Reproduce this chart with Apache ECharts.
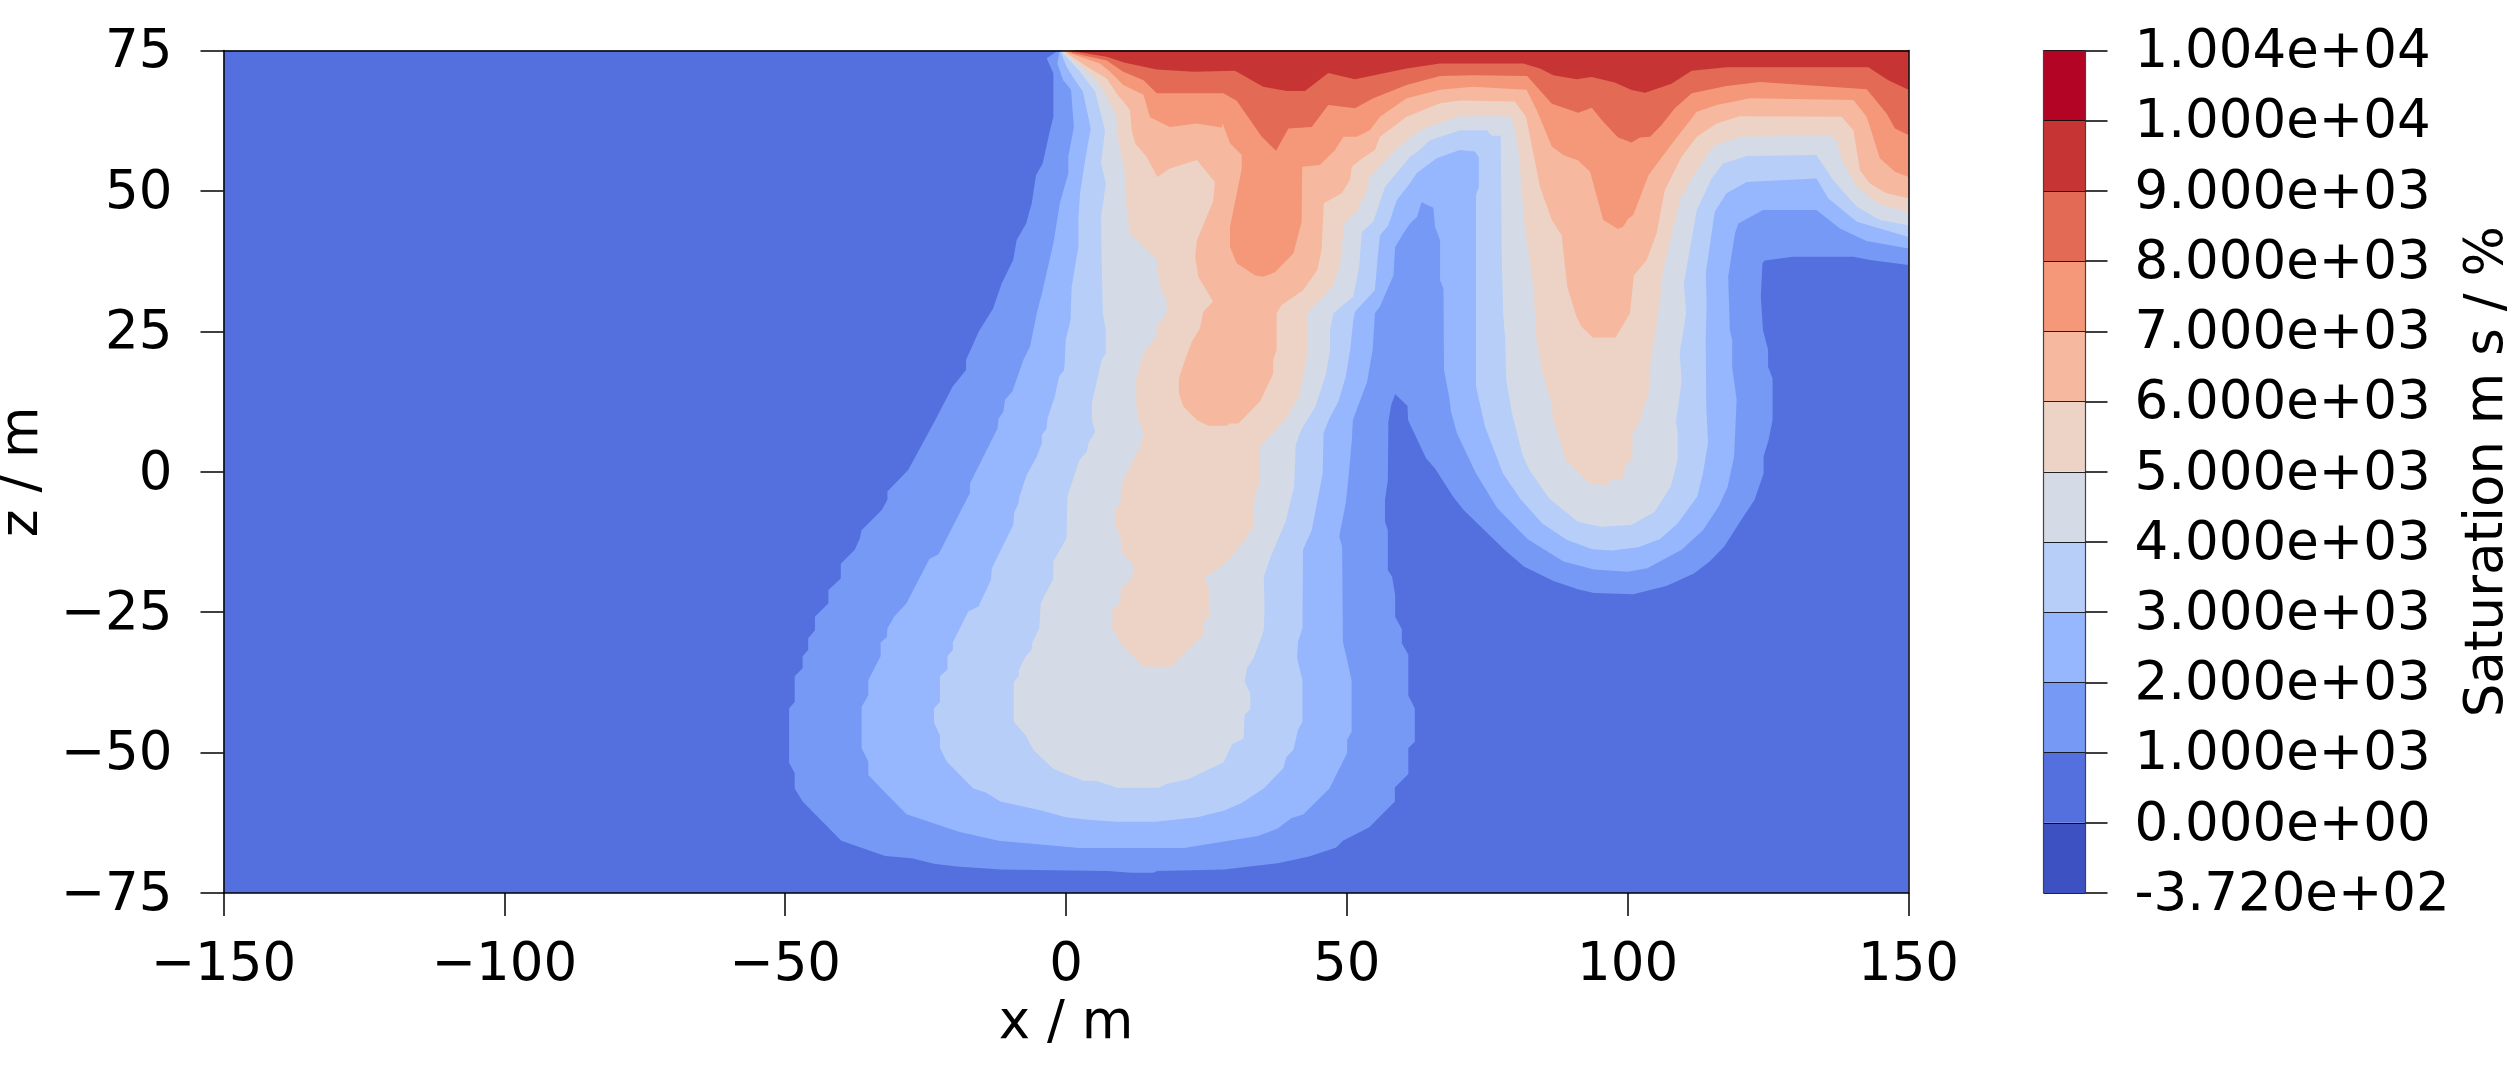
<!DOCTYPE html>
<html>
<head>
<meta charset="utf-8">
<style>html,body{margin:0;padding:0;background:#fff}#c{width:2520px;height:1080px}</style>
<script src="https://cdn.jsdelivr.net/npm/echarts@6/dist/echarts.min.js"></script>
</head>
<body>
<div id="c"></div>
<script>
const colorbarLabels = ['-3.720e+02','0.000e+00','1.000e+03','2.000e+03','3.000e+03','4.000e+03','5.000e+03','6.000e+03','7.000e+03','8.000e+03','9.000e+03','1.000e+04','1.004e+04'];
const bandColors = ['#3e51c3','#5470de','#7699f5','#96b6fe','#b7cef9','#d5dbe6','#edd3c6','#f6b89e','#f5987a','#e36b55','#c63533','#b40426'];
const domain = [[-150,-75],[150,-75],[150,75],[-150,75]];
const contour1000 = [[-1.66,75],[-1.66,74.8],[-3.44,73.6],[-2.25,70.9],[-2.25,63.2],[-2.85,60.8],[-4.15,54.9],[-5.34,52.8],[-6.1,47.8],[-7.1,44.2],[-8.8,41.2],[-9.4,37.7],[-11.45,33.5],[-13,29],[-15.5,25],[-17.8,19.9],[-17.8,18.1],[-20.2,15.15],[-23.6,8.6],[-28.1,0.3],[-31.8,-3.5],[-31.8,-5],[-32.8,-6.8],[-36.4,-10.4],[-36.7,-11.85],[-37.6,-13.9],[-40.1,-16.4],[-40.1,-19],[-42.3,-21.05],[-42.3,-23.4],[-44.7,-25.8],[-44.7,-28.2],[-45.9,-29.65],[-45.9,-31.7],[-46.9,-32.9],[-46.9,-35],[-48.3,-36.4],[-48.3,-41],[-49.3,-42.1],[-49.3,-51.8],[-48.3,-53.7],[-48.3,-56.4],[-46.9,-58.7],[-40,-65.7],[-32.2,-68.4],[-27.45,-68.8],[-23.5,-69.8],[-19.5,-70.3],[-11.55,-70.8],[7.5,-71.1],[11.5,-71.4],[15.5,-71.4],[16.3,-71.1],[28.2,-70.8],[33.4,-70.2],[37.7,-69.7],[43.3,-68.5],[48.1,-66.9],[49.3,-65.7],[54,-63.3],[58.55,-58.7],[58.55,-56.2],[60.95,-53.8],[60.95,-49.2],[62.1,-48.05],[62.1,-42.1],[60.95,-39.9],[60.95,-32.6],[59.8,-30.55],[59.8,-28.05],[58.6,-25.8],[58.6,-21.9],[58.06,-18.7],[57.3,-17.5],[57.3,-10.4],[56.8,-8.9],[56.8,-5],[57.3,-1.5],[57.4,8.9],[57.9,11.9],[58.6,13.85],[60.8,11.7],[60.9,9.2],[64.1,2.4],[65.7,0.6],[68.9,-4.4],[70.8,-6.8],[78.4,-14.2],[81.6,-16.9],[86.7,-19.4],[91.1,-20.9],[94,-21.6],[101,-21.8],[107,-20.3],[111.8,-18.1],[114.6,-16],[117.2,-13.3],[120,-8.9],[122.6,-5],[124.2,-0.3],[124.2,2.7],[125.1,5.7],[125.8,9.2],[125.8,16.6],[125,18.7],[125,21.7],[124.1,25.2],[123.7,31.2],[124,37.1],[124.4,37.6],[129.5,38.3],[140.2,38.3],[143.1,37.7],[150,36.8],[150,75]];
const contour2000 = [[-1.2,75],[-1.2,74.7],[-1.55,72.7],[-0.5,69.7],[0.9,68],[1.4,61.4],[0.4,56.1],[0.4,53.1],[-1.1,47.8],[-2.25,40.7],[-4.3,31.75],[-5.2,28.2],[-6.4,22.3],[-7.6,19.9],[-9.55,14.3],[-10.85,12.8],[-11.15,10.7],[-12,9.5],[-12.2,7.7],[-16.5,-0.9],[-17.1,-2.1],[-17.1,-3.8],[-20.35,-10.1],[-22.7,-14.7],[-24.3,-15.5],[-28.4,-23.4],[-30.6,-25.8],[-31.8,-27.9],[-31.9,-29.4],[-33,-30.4],[-33,-32.8],[-35.2,-37.1],[-35.2,-39.75],[-36.4,-41.9],[-36.4,-49.2],[-35.2,-51.6],[-35.2,-54],[-32.9,-56.4],[-28.4,-61],[-19.1,-64.1],[-12,-65.7],[-3.6,-66.45],[2.35,-67],[21.04,-67],[26.2,-66.15],[34.2,-64.85],[37.7,-63.5],[40.1,-61.7],[42.3,-61],[46.9,-56.4],[50.05,-50.1],[50.05,-47.75],[50.85,-46.3],[50.85,-37.1],[50.05,-33.5],[49.3,-30.25],[49.16,-13.3],[48.65,-11.55],[49.8,-5.6],[50.2,-2.05],[50.9,5.65],[51.07,9.2],[53.6,16],[54.6,21.7],[55,28.2],[55.9,29.4],[58.3,35],[58.6,40],[60.05,42.4],[61.25,44.2],[62.5,45.4],[63.3,48],[65.4,47],[65.7,43.6],[66.6,41.2],[66.6,34.1],[67.2,32.6],[67.3,18.1],[68.2,13.4],[68.55,10.7],[69.6,6.85],[73,-0.3],[76.8,-6.5],[82.2,-12],[88.6,-16],[94,-17.4],[100,-17.8],[103.5,-17.2],[109.6,-13.9],[113.4,-10.4],[116.2,-6.2],[117.8,-2.65],[118.95,2.7],[119.4,12.8],[118.6,18.7],[118.6,23.46],[118.2,25.2],[117.9,34.7],[119.1,42.4],[119.7,44.2],[124.1,46.6],[133.6,46.6],[137.8,43.3],[142.5,41.1],[150,39.75],[150,75]];
const contour3000 = [[-0.9,75],[-0.9,74.6],[0.1,72.1],[1.6,69.7],[3,67.7],[4.4,61.1],[3.4,55.5],[2.5,49.6],[2.2,44.8],[2.2,40],[1,32.9],[0.8,27],[-0.06,23.4],[-0.2,19.9],[-0.35,18.1],[-1.25,16.9],[-2,13.4],[-3.3,9.5],[-3.45,7.7],[-4.3,6.55],[-4.3,5.1],[-5.2,2.7],[-7,-0.6],[-8.3,-4.4],[-8.5,-5.7],[-9.25,-7.3],[-9.4,-9.5],[-13.2,-17.2],[-13.4,-19.3],[-15.6,-24],[-17.4,-24.9],[-20.15,-30.4],[-20.15,-31.7],[-21.1,-32.8],[-21.1,-35.2],[-22.45,-36.4],[-22.45,-41],[-23.5,-42.1],[-23.5,-44.7],[-22.45,-46.9],[-22.45,-49.2],[-21.25,-51.6],[-16.5,-56.4],[-14.3,-57.1],[-11.7,-58.7],[-4.4,-60.3],[-0.05,-61.5],[4.35,-62],[9.1,-62.3],[15.9,-62.3],[23.4,-61.5],[28.2,-60.3],[31.2,-59],[35.2,-56.4],[38.7,-52.8],[39.2,-50.85],[40.5,-49.5],[41.3,-46],[42.1,-44.5],[42.1,-37.1],[41.15,-33.2],[41.3,-30.25],[42.1,-27.9],[42.2,-13.9],[43.75,-10.4],[45.7,-0.3],[45.85,6.85],[46.9,9.5],[48.5,12.5],[49.8,16.9],[50.6,21.7],[51.15,27],[51.45,28.5],[55,32.35],[55.45,37.7],[55.9,42.1],[57.4,43.9],[58.9,48.4],[61.25,51.35],[62.45,53.2],[66,55.8],[70.1,57.3],[72.8,57],[73.5,56],[73.5,50.7],[73,49.3],[73,15.2],[74.6,8],[77.8,-0.3],[81,-5],[84.8,-9.2],[89.2,-12.15],[93.7,-13.8],[97.2,-14],[101.9,-13.45],[105.7,-12],[108.9,-9.2],[112.4,-4.4],[113.4,-0.3],[114.3,5.1],[114,11.6],[113.9,23.46],[114.06,30],[113.9,35.3],[115.5,46.3],[117.6,49.6],[121.2,51.6],[133.6,52.2],[135.7,48.7],[140.8,44.5],[150,41.8],[150,75]];
const contour4000 = [[-0.6,75],[-0.6,74.6],[2.5,71.2],[5.2,67.7],[6.95,60.8],[6.25,54.9],[7.1,51.3],[6.25,45.4],[6.35,38.3],[6.55,28.2],[7.1,25.2],[7.1,21.1],[6.35,19.9],[4.6,12.2],[4.6,9.2],[5.2,7.1],[4,5.1],[3.7,3.6],[2.4,2.1],[0.25,-4.4],[0.1,-11.85],[-2.25,-16],[-2.25,-19],[-4.5,-23.4],[-4.75,-27.9],[-6,-30.4],[-6.1,-31.7],[-7.2,-32.9],[-8.4,-35.3],[-8.4,-36.4],[-9.3,-37.4],[-9.3,-44.5],[-7.2,-46.9],[-5.8,-49.5],[-2.4,-52.8],[0.4,-54],[3.15,-55],[5.5,-55.05],[9.1,-56.25],[16.5,-56.25],[17.85,-55.6],[21.8,-54.7],[28.05,-51.7],[29.6,-48.5],[31.6,-47.5],[31.8,-43.3],[32.8,-42.3],[32.8,-39.45],[31.8,-37.4],[32.2,-35],[33.4,-33.2],[35.2,-28.2],[35.35,-24.3],[35.2,-18.7],[36.45,-15.1],[39.1,-8.9],[40.6,-2.65],[40.9,4.8],[41.85,7.4],[44.4,11.6],[46.3,17.5],[47,21.7],[47,25.2],[47.6,28.2],[51.15,31.2],[52.2,36.5],[52.65,42.7],[54.7,44.5],[56.8,50.75],[61.25,56.1],[62.45,56.9],[64.8,59],[70.1,60.8],[74.9,60.8],[75.8,59.8],[77.4,59.8],[77.6,37.1],[77.85,28.2],[78.2,23.46],[78.4,16.3],[79.4,10.4],[81.3,3],[82.5,0.3],[86,-4.7],[91.1,-8.9],[95.25,-9.8],[100.65,-9.5],[104.8,-7.1],[107.65,-2.65],[108.9,2.1],[108.9,6.85],[108.6,9],[109,11.6],[109.6,16.3],[109.25,21.1],[110.4,28.2],[110,33.5],[112.3,46.6],[114.95,52.2],[117,54.9],[121.2,56.2],[133.6,56.4],[136.6,51.9],[140.8,47.2],[144.9,44.8],[150,43.9],[150,75]];
const contour5000 = [[-0.35,75],[-0.35,74.6],[3.1,71.8],[5.45,69.7],[6.95,67.4],[9,63.2],[9.3,59],[10.5,53.1],[10.7,47.8],[11.4,42.4],[13.8,40],[16.15,37.7],[16.75,32.9],[17.9,30.6],[17.9,28.2],[16.15,25.8],[16.15,24.3],[14.05,21.4],[13.5,19.9],[12.5,16.9],[12.5,12.2],[12.9,9.2],[13.8,6.85],[13.5,5.1],[9.8,-2.35],[9.8,-5],[8.9,-6.8],[8.9,-9.8],[9.9,-12.15],[9.9,-14.2],[11.9,-16.6],[11.9,-18.7],[9.75,-20.9],[9.6,-23.4],[8.25,-24.6],[8.25,-27.9],[9.75,-30.55],[13.8,-34.7],[18.8,-34.7],[24.45,-29.05],[24.45,-26.7],[25.45,-25.8],[25.45,-20.75],[24.6,-18.7],[26.8,-17.5],[29.5,-15.1],[31.6,-12.45],[33.35,-9.8],[33.35,-5.6],[34.5,-1.45],[34.54,4.5],[39,9.2],[41.5,13.4],[42.6,19],[43,21.7],[43,28.2],[45.2,30.6],[47.6,33.25],[48.8,37.1],[49.5,44.2],[51.75,46.3],[53.8,50.75],[54.1,52.5],[58.6,57.3],[63,60.8],[70.1,63.3],[79.3,63.3],[80.5,57.9],[81.7,43.6],[83.2,32.9],[83.8,23.46],[84.75,18.1],[86.5,11.9],[86.7,9.2],[87.6,6.85],[88.9,2.2],[93.3,-2.2],[96.2,-2.35],[97.15,-1.5],[99.1,-1.2],[99.5,0.9],[100.85,2.4],[100.85,6.85],[101.9,8.3],[103.8,14.3],[104.15,21.1],[104.6,22.3],[106,32.35],[106.2,35.3],[109.3,48.4],[112.3,53.7],[115.25,57.9],[120,59.65],[135.7,59.9],[137.2,59],[138.1,55.5],[140.8,50.75],[144.9,47.5],[150,46.3],[150,75]];
const contour6000 = [[-0.05,75],[-0.05,74.6],[4.3,71.8],[7.25,70],[9,67.4],[11.4,64.4],[11.7,60.8],[12.3,58.5],[14.35,56.1],[16.25,52.5],[18.5,54],[23.3,55.5],[26.5,51.6],[26.2,48.1],[23.3,41.2],[23,38.3],[23.55,34.7],[26.2,30.3],[24.45,28.5],[23.85,25.5],[22.4,23.15],[21.2,19.9],[20.1,16.6],[20.1,14],[20.9,11.6],[23.3,9.2],[25.35,8.2],[28.6,8.2],[29.2,8.6],[30.7,8.6],[33.05,11],[34.54,12.5],[35.8,15.2],[36.9,17.5],[36.9,19.9],[37.5,21.7],[37.5,28.2],[38.4,29.7],[42.25,32.35],[44.75,35.9],[45.5,39.5],[45.9,47.8],[49.1,49.6],[50.55,52],[50.9,54.3],[52.35,55.5],[55,57.3],[55.9,59.65],[60.65,63.2],[66.6,65.6],[70.1,66.1],[79.9,65.9],[81.9,63.2],[83.8,53.7],[84.4,50.7],[86.5,44.8],[88.25,42.1],[89.25,32.9],[90.9,27.6],[91.8,25.8],[93.75,23.9],[97.85,23.9],[100.4,28.2],[101.1,35],[103.4,37.7],[105.15,42.4],[106.6,50.1],[109.6,56.1],[112.3,59.65],[115.85,62],[120,63.3],[138.1,63.2],[140.2,60.8],[141.35,53.7],[143.1,51.3],[146.1,49.6],[150,48.7],[150,75]];
const contour7000 = [[0.4,75],[0.4,74.6],[6.05,72.7],[7.85,71.2],[10.2,68.85],[13.8,67.1],[14.95,63.1],[18.5,61.4],[23.3,62],[27.7,61.3],[27.9,62],[29.2,58.5],[31.3,56.4],[31.3,54],[29.2,43.6],[29.2,40],[30.4,37.1],[33.65,35],[35.1,34.7],[37.2,35.5],[40.5,38.9],[41.95,44.5],[42.05,54.3],[45.2,54.6],[47.9,57.3],[49.4,59.65],[51.75,59.65],[54.1,60.8],[55.9,63.2],[60.65,66.5],[66.6,68],[72.5,68.55],[82,68],[83.8,64.4],[86.5,57.9],[88.55,56.4],[91.2,55.4],[93.3,53.4],[95.65,44.8],[98.3,43.2],[99.2,43.6],[100.1,45.1],[101,45.7],[103.7,52.8],[107.5,57.9],[112.3,64.1],[115.85,65.3],[121.8,66.5],[140.2,66.2],[142.55,63.2],[144.9,55.8],[147.6,53.4],[150,52.5],[150,75]];
const contour8000 = [[1,75],[1,74.6],[7.25,73.2],[10.2,71.2],[13.8,69.7],[16.15,67.4],[28,67.4],[30.4,66.05],[34.85,59.65],[37.4,57.15],[39.6,61.1],[43.75,61.4],[46.7,65.3],[51.45,64.7],[54.7,66.5],[60.65,68.85],[66.6,70.45],[72.5,70.6],[82.1,70.45],[86.5,65.5],[91.2,63.9],[93.6,64.8],[95.65,62.3],[98.3,59.5],[100.7,58.6],[102.2,59.5],[104,59.65],[106,61.7],[108.4,64.7],[111.4,67.4],[117.6,68.7],[123.55,69.4],[142.55,68.1],[146.1,63.8],[147.6,61.1],[150,59.95],[150,75]];
const contour9000 = [[1.6,75],[1.6,74.8],[7.25,73.9],[10.5,72.8],[16.15,71.6],[22.7,71.2],[30.1,71.4],[35.1,68.55],[39.3,67.8],[42.55,67.8],[46.7,71],[51.45,69.9],[60.65,71.8],[66.6,72.7],[81.4,72.7],[84.4,71.8],[86.75,70.6],[90.9,69.9],[93.6,70.3],[97.7,69.3],[100.7,67.95],[103.1,67.5],[107.8,69.1],[111.4,71.4],[117.6,72],[142.85,72],[146.4,69.7],[150,68],[150,75]];

const contours = [domain,contour1000,contour2000,contour3000,contour4000,contour5000,contour6000,contour7000,contour8000,contour9000];
const fillColors = bandColors.slice(1,11);

const font = 'DejaVu Sans', fs = 53;
const minus = v => String(v).replace('-', '\u2212');
const label = (o) => Object.assign({color:'#000',fontFamily:font,fontSize:fs,hideOverlap:false,showMinLabel:true,showMaxLabel:true}, o);
const nudged = {t:{color:'#000',fontFamily:font,fontSize:fs,padding:[6,0,0,0]}};
const line = {lineStyle:{color:'#000',width:1.5}};
const bare = {axisLabel:{show:false},axisTick:{show:false},splitLine:{show:false}};

const chart = echarts.init(document.getElementById('c'),null,{renderer:'canvas',width:2520,height:1080});
const polygonSeries = contours.map((pts,i)=>({
  type:'custom', xAxisIndex:0, yAxisIndex:0, z:2+i, silent:true, animation:false,
  data:pts, encode:{x:0,y:1},
  renderItem:(params,api)=>{
    if(params.dataIndex!==0) return null;
    return {type:'polygon',shape:{points:pts.map(p=>api.coord(p))},style:{fill:fillColors[i]}};
  }
}));
const barSeries = {
  type:'custom', xAxisIndex:2, yAxisIndex:2, z:2, silent:true, animation:false,
  data:bandColors.map((c,i)=>[0,i,1,i+1]),
  renderItem:(params,api)=>{
    const a=api.coord([api.value(0),api.value(1)]), b=api.coord([api.value(2),api.value(3)]);
    return {type:'rect',shape:{x:a[0],y:b[1],width:b[0]-a[0],height:a[1]-b[1]},style:{fill:bandColors[params.dataIndex]}};
  }
};
chart.setOption({
  animation:false,
  backgroundColor:'#fff',
  grid:[
    {left:223.5,top:50.5,width:1685,height:842.5,outerBoundsMode:'none'},
    {left:2043.5,top:50.5,width:42,height:842.5,outerBoundsMode:'none'}
  ],
  xAxis:[
    {type:'value',gridIndex:0,min:-150,max:150,interval:50,position:'bottom',z:20,
     axisLine:Object.assign({onZero:false},line),
     axisTick:Object.assign({length:23},line),
     splitLine:{show:false},
     axisLabel:label({margin:47,formatter:minus}),
     name:'x / m',nameLocation:'middle',nameGap:104,
     nameTextStyle:{color:'#000',fontFamily:font,fontSize:fs}},
    Object.assign({type:'value',gridIndex:0,min:-150,max:150,position:'top',z:20,axisLine:Object.assign({onZero:false},line)},bare),
    Object.assign({type:'value',gridIndex:1,min:0,max:1,position:'bottom',z:20,axisLine:{show:false}},bare)
  ],
  yAxis:[
    {type:'value',gridIndex:0,min:-75,max:75,interval:25,position:'left',z:20,
     axisLine:Object.assign({onZero:false},line),
     axisTick:Object.assign({length:23},line),
     splitLine:{show:false},
     axisLabel:label({margin:51,rich:nudged,formatter:v=>'{t|'+minus(v)+'}'}),
     name:'z / m',nameLocation:'middle',nameGap:164,nameRotate:90,
     nameTextStyle:{color:'#000',fontFamily:font,fontSize:fs}},
    Object.assign({type:'value',gridIndex:0,min:-75,max:75,position:'right',z:20,axisLine:Object.assign({onZero:false},line)},bare),
    {type:'value',gridIndex:1,min:0,max:12,interval:1,position:'right',z:20,
     axisLine:{onZero:false,lineStyle:{color:'#444',width:1.2}},
     axisTick:{length:22,lineStyle:{color:'#000',width:1.5}},
     splitLine:{show:true,lineStyle:{color:'rgba(0,0,0,0.85)',width:1.2}},
     axisLabel:label({margin:49,rich:nudged,formatter:v=>'{t|'+colorbarLabels[Math.round(v)]+'}'}),
     name:'Saturation m s / %',nameLocation:'middle',nameGap:376,nameRotate:90,
     nameTextStyle:{color:'#000',fontFamily:font,fontSize:fs}},
    Object.assign({type:'value',gridIndex:1,min:0,max:12,position:'left',z:20,axisLine:{onZero:false,lineStyle:{color:'#444',width:1.2}}},bare)
  ],
  series:polygonSeries.concat([barSeries])
});
</script>
</body>
</html>
